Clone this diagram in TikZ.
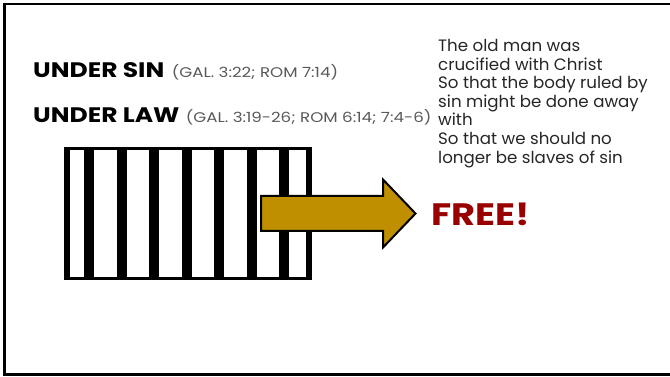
\documentclass[tikz,border=0pt]{standalone}
\usepackage{fontspec}
\setmainfont{Poppins}[FakeStretch=1.19]
\newfontfamily\versefont{Poppins}[FakeStretch=1.01]
\usepackage{xcolor}
\usetikzlibrary{positioning}

\definecolor{refgray}{RGB}{89,89,89}
\definecolor{textgray}{RGB}{38,38,38}
\definecolor{arrowgold}{RGB}{191,143,0}
\definecolor{freered}{RGB}{153,0,0}

\begin{document}
\begin{tikzpicture}[
  x=1pt, y=-1pt,
  heading/.style={anchor=base west, inner sep=0pt, font=\fontsize{21}{25}\selectfont\bfseries},
  refs/.style={anchor=base west, inner sep=0pt, text=refgray, font=\fontsize{14}{17}\selectfont},
  verses/.style={anchor=north west, inner sep=0pt, align=left, text=textgray, font=\versefont\fontsize{16.5}{18.6}\selectfont},
  bar/.style={fill=black},
  goldarrow/.style={fill=arrowgold, draw=black, line width=2pt, line join=miter}
]
\useasboundingbox (0,0) rectangle (670,377);
% frame
\draw[line width=2.5pt] (680,4) -- (4.5,4) -- (4.5,374.5) -- (680,374.5);

% headings
\node[heading] (sin) at (33,77.5) {UNDER SIN};
\node[refs, right=7pt of sin.base east, anchor=base west] (sinref) {(GAL. 3:22; ROM 7:14)};
\node[heading] (law) at (33,123) {UNDER LAW};
\node[refs, right=6pt of law.base east, anchor=base west] (lawref) {(GAL. 3:19-26; ROM 6:14; 7:4-6)};

% verses
\node[verses] (verse) at (438,39) {The old man was\\crucified with Christ\\So that the body ruled by\\sin might be done away\\with\\So that we should no\\longer be slaves of sin};

% bars
\draw[line width=2.7pt] (65,148.5) rectangle (311,278.5);
\fill[bar] (64,147) rectangle (70,280);
\fill[bar] (306,147) rectangle (312,280);
\foreach \i in {0,...,6}
  \fill[bar] (84.3+32.5*\i,147) rectangle +(10,133);

% arrow
\draw[goldarrow] (261,196) -- (383,196) -- (383,179.5) -- (415.5,213.5)
  -- (383,247.5) -- (383,231) -- (261,231) -- cycle;
\node[anchor=west, inner sep=0pt, text=freered, font=\fontsize{31}{36}\selectfont\bfseries] (free) at (431,214) {FREE!};
\end{tikzpicture}
\end{document}
